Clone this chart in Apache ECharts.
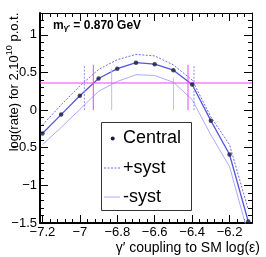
<!DOCTYPE html>
<html><head><meta charset="utf-8">
<script src="https://cdn.jsdelivr.net/npm/echarts@6/dist/echarts.min.js"></script>
<style>html,body{margin:0;padding:0;background:#fff}#c{width:266px;height:257px}</style>
</head><body><div id="c"></div>
<script>
// ---- data ----
const couplings = [-7.2,-7.1,-7.0,-6.9,-6.8,-6.7,-6.6,-6.5,-6.4,-6.3,-6.2,-6.1];
const central   = [-0.31,-0.06,0.19,0.42,0.55,0.63,0.61,0.53,0.34,-0.14,-0.59,-1.48];
const plusSyst  = [-0.20,0.07,0.32,0.54,0.67,0.74,0.72,0.60,0.40,-0.09,-0.46,-1.32];
const minusSyst = [-0.46,-0.23,0.01,0.25,0.38,0.47,0.46,0.37,0.14,-0.33,-0.75,-1.65];
const xTickLabels = [-7.2,-7.0,-6.8,-6.6,-6.4,-6.2];
const yTickLabels = [-1.5,-1,-0.5,0,0.5,1];
const limitLevel = 0.36;
const centralCrossX = [-6.928,-6.422];
const centralCrossTop = [0.6,0.6];
const plusCrossX = [-6.976,-6.39];
const plusCrossTop = [0.6,0.6];
const minusCrossX = [-6.83,-6.50];
const minusCrossTop = [0.55,0.43];
const crossBottom = 0;
const massLabel = '0.870';

// ---- ticks ----
const xMin = -7.213, xMax = -6.08, yMin = -1.5, yMax = 1.29;
const xMinor = []; for (let i = -7.2*25; i <= -6.08*25; i++) { const v = i/25; if (v >= xMin && v <= xMax) xMinor.push(+v.toFixed(3)); }
const yMinor = []; for (let i = -15; i <= 12; i++) yMinor.push(i/10);
const fmt = v => { const r = Math.round(v*10)/10; return (r < 0 ? '\u2212' : '') + Math.abs(r); };
const FONT = 'Liberation Sans';
const lab = {fontFamily: FONT, fontSize: 13, color: '#000'};

function xAx(pos, ticks, len, showLabel, lineW) {
  return {type:'value', position:pos, min:xMin, max:xMax, splitLine:{show:false},
    axisLine:{show:lineW>0, onZero:false, lineStyle:{color:'#000', width:lineW||1}},
    axisTick:{show:true, inside:true, length:len, customValues:ticks, lineStyle:{color:'#000', width:1}},
    axisLabel:showLabel ? Object.assign({show:true, margin:3, customValues:xTickLabels, formatter:fmt}, lab) : {show:false}};
}
function yAx(pos, ticks, len, showLabel, lineW) {
  return {type:'value', position:pos, min:yMin, max:yMax, splitLine:{show:false},
    axisLine:{show:lineW>0, onZero:false, lineStyle:{color:'#000', width:lineW||1}},
    axisTick:{show:true, inside:true, length:len, customValues:ticks, lineStyle:{color:'#000', width:1}},
    axisLabel:showLabel ? Object.assign({show:true, margin:3, customValues:yTickLabels, formatter:fmt}, lab) : {show:false}};
}

const seg = (x, top, color, type, w) => ({type:'line', xAxisIndex:0, yAxisIndex:0, silent:true, symbol:'none',
  data:[[x, crossBottom],[x, top]], lineStyle:{color, type, width:w}, z:3});

const series = [];
series.push({type:'line', name:'-syst', data:couplings.map((x,i)=>[x,minusSyst[i]]), symbol:'none',
  lineStyle:{color:'#aaaaff', width:1}, z:2});
series.push({type:'line', name:'+syst', data:couplings.map((x,i)=>[x,plusSyst[i]]), symbol:'none',
  lineStyle:{color:'#6c6cee', width:1, type:[2,1.5]}, z:2});
series.push({type:'line', name:'Central line', data:couplings.map((x,i)=>[x,central[i]]), symbol:'none',
  lineStyle:{color:'#5555dd', width:1.3}, z:3});
series.push({type:'line', name:'limit', silent:true, symbol:'none', data:[[xMin, limitLevel],[xMax, limitLevel]],
  lineStyle:{color:'#ee44ee', width:1}, z:4});
centralCrossX.forEach((x,i)=>series.push(seg(x, centralCrossTop[i], '#ee44ee', 'solid', 1)));
plusCrossX.forEach((x,i)=>series.push(seg(x, plusCrossTop[i], '#8a8aee', [2,1.5], 1)));
minusCrossX.forEach((x,i)=>series.push(seg(x, minusCrossTop[i], '#bbbbff', 'solid', 1)));
series.push({type:'scatter', name:'Central', data:couplings.map((x,i)=>[x,central[i]]), symbol:'circle', symbolSize:4.5,
  itemStyle:{color:'#1c1c40'}, z:5});

const yAxes = [yAx('left', yTickLabels, 8, true, 2), yAx('left', yMinor, 4, false, 0),
               yAx('right', yTickLabels, 8, false, 1), yAx('right', yMinor, 4, false, 0)];
Object.assign(yAxes[0], {
  name:'{n|log(rate) for 2.10}{s|10}{n| p.o.t.}', nameLocation:'middle', nameRotate:90, nameGap:19,
  nameMoveOverlap:false,
  nameTextStyle:{padding:[0,0,0,72], rich:{
    n:{fontFamily:FONT, fontSize:13, color:'#000', verticalAlign:'bottom', lineHeight:16},
    s:{fontFamily:FONT, fontSize:9, color:'#000', verticalAlign:'top', lineHeight:16}}}
});

const chart = echarts.init(document.getElementById('c'), null, {renderer:'canvas'});
chart.setOption({
  animation:false,
  backgroundColor:'#fff',
  grid:{left:40, right:14, top:13, bottom:34, containLabel:false, outerBoundsMode:'none'},
  xAxis:[xAx('bottom', xTickLabels, 8, true, 2), xAx('bottom', xMinor, 4, false, 0),
         xAx('top', xTickLabels, 8, false, 1), xAx('top', xMinor, 4, false, 0)],
  yAxis:yAxes,
  series,
  graphic:[
    {type:'text', left:53, top:20, z:10, style:{text:'{m|m}{s|\u03b3\u2032}{m| = ' + massLabel + ' GeV}', rich:{
      m:{fontFamily:FONT, fontWeight:'bold', fontSize:12, fill:'#000', verticalAlign:'bottom'},
      s:{fontFamily:FONT, fontWeight:'bold', fontSize:8, fill:'#000', padding:[6,0,0,0], verticalAlign:'bottom'}}}},
    {type:'text', x:260, y:248, z:10, style:{text:'\u03b3\u2032 coupling to SM log(\u03b5)', font:'14px "Liberation Sans"',
      fill:'#000', align:'right', verticalAlign:'middle'}},
    {type:'rect', shape:{x:101.5, y:122.5, width:90, height:88}, z:20, style:{fill:'#fff', stroke:'#333', lineWidth:1}},
    {type:'circle', shape:{cx:112.7, cy:138.5, r:2}, z:21, style:{fill:'#1c1c40'}},
    {type:'text', x:123, y:138.5, z:21, style:{text:'Central', font:'18px "Liberation Sans"', fill:'#000', verticalAlign:'middle'}},
    {type:'line', shape:{x1:104, y1:168, x2:120, y2:168}, z:21, style:{stroke:'#6c6cee', lineWidth:1, lineDash:[2,1.5]}},
    {type:'text', x:123, y:168, z:21, style:{text:'+syst', font:'18px "Liberation Sans"', fill:'#000', verticalAlign:'middle'}},
    {type:'line', shape:{x1:104, y1:197, x2:120, y2:197}, z:21, style:{stroke:'#aaaaff', lineWidth:1}},
    {type:'text', x:123, y:197, z:21, style:{text:'-syst', font:'18px "Liberation Sans"', fill:'#000', verticalAlign:'middle'}}
  ]
});
</script></body></html>
